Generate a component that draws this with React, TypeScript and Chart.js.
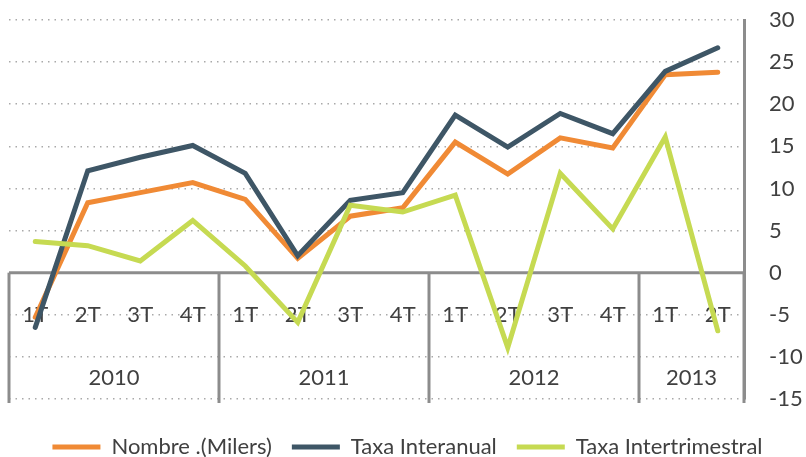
import React, { useEffect, useRef } from "react";
import { Chart, registerables } from "chart.js";

Chart.register(...registerables);

const quarters = ["1T", "2T", "3T", "4T", "1T", "2T", "3T", "4T", "1T", "2T", "3T", "4T", "1T", "2T"];
const years = ["2010", "2011", "2012", "2013"];
const yearSpans = [4, 4, 4, 2];
const nombre = [-5.3, 8.3, 9.5, 10.7, 8.7, 1.7, 6.7, 7.7, 15.5, 11.7, 16.0, 14.8, 23.5, 23.8];
const interanual = [-6.5, 12.1, 13.7, 15.1, 11.8, 2.0, 8.6, 9.5, 18.7, 14.9, 18.9, 16.5, 23.9, 26.7];
const intertrimestral = [3.7, 3.2, 1.4, 6.2, 0.8, -5.9, 8.0, 7.2, 9.2, -8.9, 11.8, 5.2, 16.1, -6.9];
const seriesNames = ["Nombre .(Milers)", "Taxa Interanual", "Taxa Intertrimestral"];

const FONT = "Lato";
const FS = 22;
const TEXT = "#404040";
const AXIS = "#8c8c8c";

const innerAxisPlugin = {
  id: "innerAxis",
  beforeDatasetsDraw(chart: any) {
    const { ctx, chartArea, scales } = chart;
    const x = scales.x;
    const y = scales.y;
    ctx.save();
    const y0 = y.getPixelForValue(0);
    ctx.strokeStyle = AXIS;
    ctx.lineWidth = 3;
    ctx.beginPath();
    ctx.moveTo(chartArea.left, y0);
    ctx.lineTo(chartArea.right, y0);
    ctx.stroke();
    let idx = 0;
    const bounds = [-0.5];
    yearSpans.forEach((s) => {
      idx += s;
      bounds.push(idx - 0.5);
    });
    bounds.forEach((b) => {
      const px = x.getPixelForValue(b);
      ctx.beginPath();
      ctx.moveTo(px, y0);
      ctx.lineTo(px, chartArea.bottom + 4);
      ctx.stroke();
    });
    ctx.fillStyle = TEXT;
    ctx.font = `${FS}px ${FONT}`;
    ctx.textAlign = "center";
    ctx.textBaseline = "middle";
    const yq = y.getPixelForValue(-5);
    quarters.forEach((q, i) => {
      ctx.fillText(q, x.getPixelForValue(i), yq);
    });
    const yy = y.getPixelForValue(-12.5);
    let start = 0;
    years.forEach((yr, i) => {
      const a = x.getPixelForValue(start - 0.5);
      const b = x.getPixelForValue(start + yearSpans[i] - 0.5);
      ctx.fillText(yr, (a + b) / 2, yy);
      start += yearSpans[i];
    });
    ctx.restore();
  },
};

export default function App() {
  const ref = useRef<HTMLCanvasElement>(null);
  useEffect(() => {
    if (!ref.current) return;
    const chart = new Chart(ref.current, {
      type: "line",
      data: {
        labels: quarters.map((q, i) => `${q}-${i}`),
        datasets: [
          {
            label: seriesNames[0],
            data: nombre,
            borderColor: "#F08A35",
            backgroundColor: "#F08A35",
            borderWidth: 5,
            pointRadius: 0,
            borderCapStyle: "round",
            tension: 0,
            order: 3,
          },
          {
            label: seriesNames[1],
            data: interanual,
            borderColor: "#3E5666",
            backgroundColor: "#3E5666",
            borderWidth: 5,
            pointRadius: 0,
            borderCapStyle: "round",
            tension: 0,
            order: 2,
          },
          {
            label: seriesNames[2],
            data: intertrimestral,
            borderColor: "#C6DA52",
            backgroundColor: "#C6DA52",
            borderWidth: 5,
            pointRadius: 0,
            borderCapStyle: "round",
            tension: 0,
            order: 1,
          },
        ],
      },
      options: {
        responsive: false,
        animation: false,
        layout: { padding: { left: 9, top: 20, right: 0, bottom: -11 } },
        plugins: {
          tooltip: { enabled: false },
          legend: {
            position: "bottom",
            reverse: true,
            labels: {
              usePointStyle: true,
              pointStyle: "line",
              pointStyleWidth: 48,
              padding: 20,
              color: TEXT,
              font: { family: FONT, size: FS },
            },
          },
        },
        scales: {
          x: {
            offset: true,
            grid: { display: false },
            border: { display: false },
            ticks: { display: false },
            afterFit(scale: any) {
              scale.height = 17;
            },
          },
          y: {
            position: "right",
            min: -15,
            max: 30,
            ticks: {
              stepSize: 5,
              padding: 0,
              color: TEXT,
              font: { family: FONT, size: FS },
            },
            grid: {
              color: "#a9a9a9",
              lineWidth: 1.5,
              drawTicks: true,
              tickLength: 25,
              tickColor: "rgba(0,0,0,0)",
            },
            border: { display: true, color: AXIS, width: 3, dash: [1.5, 5] },
            afterFit(scale: any) {
              scale.width = 62;
            },
          },
        },
      },
      plugins: [innerAxisPlugin],
    } as any);
    return () => chart.destroy();
  }, []);
  return (
    <div style={{ position: "absolute", left: 0, top: 0, width: 806, height: 457 }}>
      <canvas ref={ref} width={806} height={457} />
    </div>
  );
}
